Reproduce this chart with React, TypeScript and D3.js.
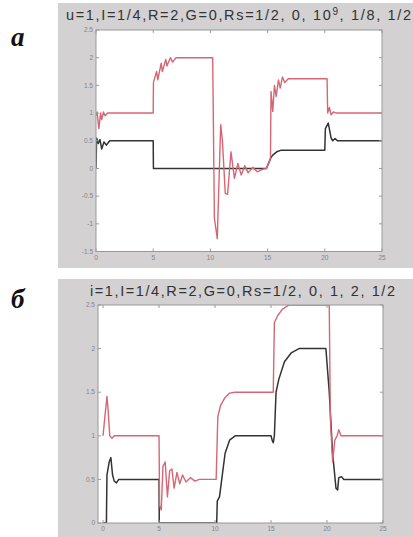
import React from "react";
import * as d3 from "d3";

// ---------- data ----------
const xTicks = [0, 5, 10, 15, 20, 25];
const yTicksA = [-1.5, -1, -0.5, 0, 0.5, 1, 1.5, 2, 2.5];
const yTicksB = [0, 0.5, 1, 1.5, 2, 2.5];

// panel a (u=1 ...)
const redAx = [0, 0.1, 0.25, 0.4, 0.5, 0.65, 0.8, 1.0, 5.0, 5.02, 5.3, 5.4, 5.7, 5.8, 6.1, 6.2, 6.5, 6.7, 7.0, 10.2, 10.35, 10.6, 10.9, 11.05, 11.3, 11.5, 11.8, 12.1, 12.4, 12.7, 13.0, 13.3, 13.7, 14.1, 14.5, 14.9, 15.25, 15.3, 15.45, 15.6, 15.75, 15.95, 16.1, 16.3, 16.5, 16.8, 20.2, 20.25, 20.4, 20.55, 20.75, 21.0, 25];
const redAy = [0.95, 1.02, 0.72, 1.0, 0.88, 1.02, 0.95, 1.0, 1.0, 1.55, 1.75, 1.6, 1.9, 1.75, 1.97, 1.85, 2.0, 1.92, 2.0, 2.0, -0.9, -1.27, 0.79, 0.5, -0.45, -0.47, 0.3, -0.18, 0.09, -0.12, 0.05, -0.08, 0.02, -0.06, -0.02, 0.0, 0.18, 1.39, 1.03, 1.5, 1.3, 1.6, 1.45, 1.65, 1.55, 1.62, 1.62, 1.0, 1.1, 0.97, 1.02, 1.0, 1.0];
const blackAx = [0, 0.03, 0.05, 0.2, 0.35, 0.5, 0.7, 0.9, 1.2, 5.0, 5.02, 14.9, 15.1, 15.3, 15.5, 15.8, 16.2, 20.0, 20.05, 20.3, 20.55, 20.7, 20.9, 21.1, 25];
const blackAy = [0, 0.3, 0.55, 0.45, 0.52, 0.35, 0.48, 0.42, 0.5, 0.5, 0, 0, 0.1, 0.2, 0.25, 0.3, 0.33, 0.33, 0.72, 0.82, 0.55, 0.5, 0.54, 0.5, 0.5];

// panel b (i=1 ...)
const redBx = [0, 0.15, 0.35, 0.45, 0.6, 0.8, 1.0, 5.0, 5.05, 5.2, 5.35, 5.55, 5.75, 5.95, 6.15, 6.35, 6.6, 6.85, 7.1, 7.4, 7.8, 8.2, 8.6, 10.1, 10.25, 10.5, 10.9, 11.3, 11.8, 15.2, 15.3, 15.6, 16.0, 16.6, 20.2, 20.3, 20.5, 20.7, 20.9, 21.05, 21.25, 25];
const redBy = [1.0, 1.2, 1.45, 1.3, 1.0, 0.97, 1.0, 1.0, 0.2, 0.15, 0.65, 0.7, 0.3, 0.6, 0.62, 0.4, 0.58, 0.45, 0.55, 0.47, 0.52, 0.48, 0.5, 0.5, 1.22, 1.35, 1.44, 1.49, 1.5, 1.5, 2.3, 2.38, 2.45, 2.5, 2.5, 1.2, 0.7, 0.95, 1.0, 1.07, 1.0, 1.0];
const blackBx = [0, 0.3, 0.35, 0.55, 0.7, 0.85, 1.0, 1.2, 1.4, 5.0, 5.02, 10.15, 10.2, 10.4, 10.6, 10.9, 11.3, 11.8, 15.0, 15.1, 15.2, 15.3, 15.45, 15.7, 16.2, 16.8, 17.5, 19.9, 20.2, 20.5, 20.8, 20.95, 21.05, 21.3, 21.5, 25];
const blackBy = [0, 0, 0.55, 0.7, 0.75, 0.55, 0.48, 0.46, 0.5, 0.5, 0, 0, 0.25, 0.3, 0.5, 0.8, 0.95, 1.0, 1.0, 0.95, 0.92, 1.0, 1.5, 1.65, 1.85, 1.95, 2.0, 2.0, 1.5, 0.8, 0.4, 0.38, 0.52, 0.53, 0.5, 0.5];

// ---------- drawing ----------
type PanelProps = {
  top: number;
  bottom: number;
  x0: number;
  x1: number;
  plotTop: number;
  plotBottom: number;
  xDomainMin: number;
  yDomain: [number, number];
  yTicks: number[];
  redX: number[];
  redY: number[];
  blackX: number[];
  blackY: number[];
  id: string;
};

const fmt = (v: number) => String(v);

function Panel(p: PanelProps) {
  const x = d3.scaleLinear().domain([p.xDomainMin, 25]).range([p.x0, p.x1]);
  const y = d3.scaleLinear().domain(p.yDomain).range([p.plotBottom, p.plotTop]);
  const line = d3
    .line<[number, number]>()
    .x((d) => x(d[0]))
    .y((d) => y(d[1]));
  const red = line(p.redX.map((v, i) => [v, p.redY[i]] as [number, number])) || "";
  const black = line(p.blackX.map((v, i) => [v, p.blackY[i]] as [number, number])) || "";
  const axisCol = "#9a9a9a";
  const tickCol = "#858585";
  return (
    <g>
      <rect x={58} y={p.top} width={355} height={p.bottom - p.top} fill="#d3d1d2" />
      <clipPath id={"clip" + p.id}>
        <rect x={p.x0} y={p.plotTop} width={p.x1 - p.x0} height={p.plotBottom - p.plotTop} />
      </clipPath>
      <rect x={p.x0} y={p.plotTop} width={p.x1 - p.x0} height={p.plotBottom - p.plotTop} fill="#ffffff" />
      <g clipPath={`url(#clip${p.id})`}>
        <path d={black} fill="none" stroke="#333333" strokeWidth={1.5} strokeLinejoin="round" />
        <path d={red} fill="none" stroke="#d66673" strokeWidth={1.4} strokeLinejoin="round" />
      </g>
      <rect x={p.x0} y={p.plotTop} width={p.x1 - p.x0} height={p.plotBottom - p.plotTop} fill="none" stroke={axisCol} strokeWidth={1} />
      {xTicks.map((t) => (
        <g key={"x" + t}>
          <line x1={x(t)} x2={x(t)} y1={p.plotBottom} y2={p.plotBottom - 3} stroke={axisCol} />
          <line x1={x(t)} x2={x(t)} y1={p.plotTop} y2={p.plotTop + 3} stroke={axisCol} />
          <text x={x(t)} y={p.plotBottom + 8} fontSize={6.5} fill={tickCol} textAnchor="middle" fontFamily="Liberation Sans, Arial, sans-serif">
            {fmt(t)}
          </text>
        </g>
      ))}
      {p.yTicks.map((t) => (
        <g key={"y" + t}>
          <line x1={p.x0} x2={p.x0 + 3} y1={y(t)} y2={y(t)} stroke={axisCol} />
          <line x1={p.x1} x2={p.x1 - 3} y1={y(t)} y2={y(t)} stroke={axisCol} />
          <text x={p.x0 - 3} y={y(t) + 2.2} fontSize={6.5} fill={tickCol} textAnchor="end" fontFamily="Liberation Sans, Arial, sans-serif">
            {fmt(t)}
          </text>
        </g>
      ))}
    </g>
  );
}

export default function App() {
  return (
    <svg width={413} height={537} style={{ position: "absolute", left: 0, top: 0, display: "block" }}>
      <rect x={0} y={0} width={413} height={537} fill="#ffffff" />
      <Panel
        id="a"
        top={3}
        bottom={268}
        x0={96}
        x1={382}
        plotTop={30}
        plotBottom={251.5}
        xDomainMin={0}
        yDomain={[-1.5, 2.5]}
        yTicks={yTicksA}
        redX={redAx}
        redY={redAy}
        blackX={blackAx}
        blackY={blackAy}
      />
      <Panel
        id="b"
        top={279}
        bottom={537}
        x0={98}
        x1={383}
        plotTop={305}
        plotBottom={523}
        xDomainMin={-0.45}
        yDomain={[0, 2.5]}
        yTicks={yTicksB}
        redX={redBx}
        redY={redBy}
        blackX={blackBx}
        blackY={blackBy}
      />
      <text x={66} y={20} fontSize={14.5} fill="#333333" fontFamily="Liberation Sans, Arial, sans-serif" textLength={345} lengthAdjust="spacing">
        u=1,I=1/4,R=2,G=0,Rs=1/2, 0, 10<tspan dy={-5} fontSize={10}>9</tspan><tspan dy={5}>, 1/8, 1/2</tspan>
      </text>
      <text x={90} y={296} fontSize={14.5} fill="#333333" fontFamily="Liberation Sans, Arial, sans-serif" textLength={305} lengthAdjust="spacing">
        i=1,I=1/4,R=2,G=0,Rs=1/2, 0, 1, 2, 1/2
      </text>
      <text x={11} y={46} fontSize={27} fontWeight="bold" fontStyle="italic" fontFamily="Liberation Serif, Times New Roman, serif" fill="#111">
        a
      </text>
      <text x={11} y={308} fontSize={27} fontWeight="bold" fontStyle="italic" fontFamily="Liberation Serif, Times New Roman, serif" fill="#111">
        б
      </text>
    </svg>
  );
}
